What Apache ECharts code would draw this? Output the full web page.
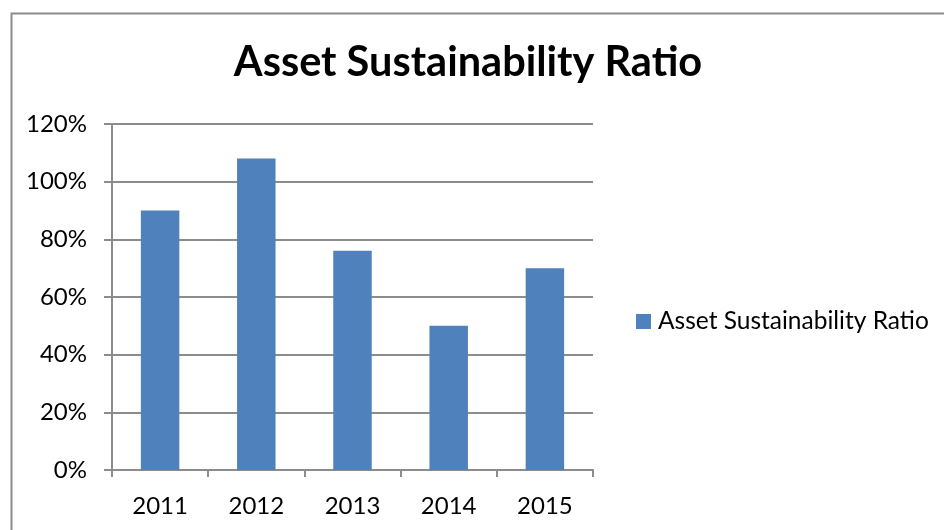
<!DOCTYPE html>
<html>
<head>
<meta charset="utf-8">
<script src="https://cdn.jsdelivr.net/npm/echarts@6/dist/echarts.min.js"></script>
<style>
html, body { margin: 0; padding: 0; background: #fff; }
#chart { width: 944px; height: 530px; }
</style>
</head>
<body>
<div id="chart"></div>
<script>
// values
const years = ['2011', '2012', '2013', '2014', '2015'];
const ratio = [0.90, 1.08, 0.76, 0.50, 0.70];
const seriesName = 'Asset Sustainability Ratio';

const gray = '#8c8c8c';
const font = 'Lato';

const chart = echarts.init(document.getElementById('chart'));
chart.setOption({
  animation: false,
  backgroundColor: '#fff',
  graphic: [{
    type: 'rect',
    left: 9, top: 11,
    shape: { width: 1000, height: 600 },
    style: { fill: 'none', stroke: gray, lineWidth: 2 },
    silent: true
  }],
  title: {
    text: 'Asset Sustainability Ratio',
    left: 463, top: 37,
    textAlign: 'center',
    textStyle: { fontFamily: font, fontWeight: 'bold', fontSize: 41.5, color: '#000' }
  },
  legend: {
    data: [seriesName],
    left: 631, top: 304,
    icon: 'rect',
    itemWidth: 15, itemHeight: 15,
    itemGap: 10,
    textStyle: { fontFamily: font, fontSize: 24.5, color: '#000', padding: [0, 0, 0, 2] }
  },
  grid: { left: 112, right: 351, top: 124, bottom: 60 },
  xAxis: {
    type: 'category',
    data: years,
    axisLine: { lineStyle: { color: gray, width: 2 } },
    axisTick: { show: true, length: 7, lineStyle: { color: gray, width: 2 } },
    axisLabel: { fontFamily: font, fontSize: 24, color: '#000', margin: 24 }
  },
  yAxis: {
    type: 'value',
    min: 0, max: 1.2, interval: 0.2,
    axisLine: { show: true, lineStyle: { color: gray, width: 2 } },
    axisTick: { show: true, length: 8, lineStyle: { color: gray, width: 2 } },
    splitLine: { lineStyle: { color: gray, width: 2 } },
    axisLabel: {
      fontFamily: font, fontSize: 24, color: '#000', margin: 25,
      formatter: v => Math.round(v * 100) + '%'
    }
  },
  series: [{
    name: seriesName,
    type: 'bar',
    data: ratio,
    barWidth: '40%',
    itemStyle: { color: '#4f81bd' }
  }]
});
</script>
</body>
</html>
